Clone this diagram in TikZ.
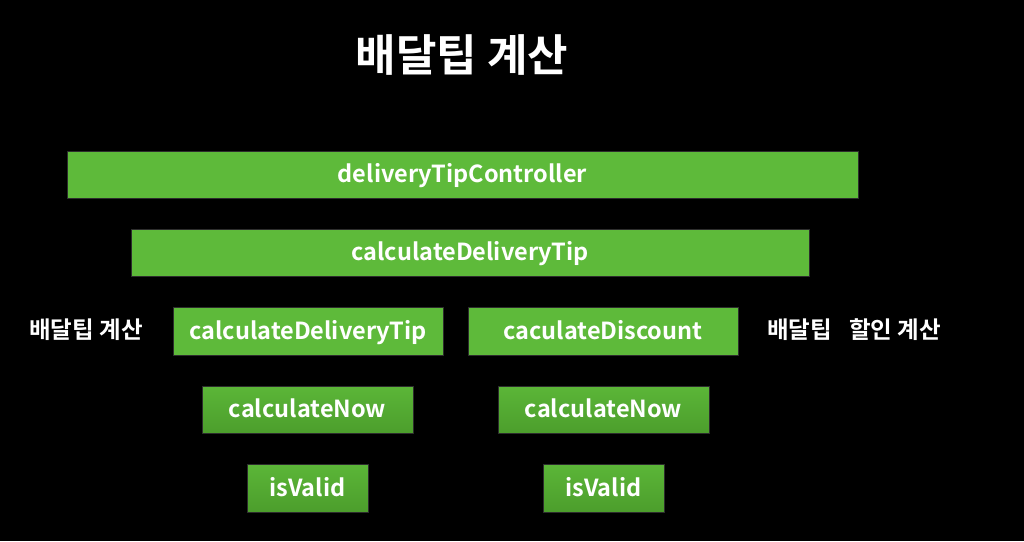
\documentclass[tikz,border=0pt]{standalone}
\usepackage{fontspec}
\setmainfont{Noto Sans CJK KR Bold}
\usepackage{tikz}

\definecolor{tipgreen}{RGB}{94,186,58}
\definecolor{tipgreendark}{RGB}{76,158,44}
\definecolor{tipedge}{RGB}{45,45,45}

\begin{document}
\begin{tikzpicture}[x=1pt, y=-1pt,
    % --- styles ---
    bar/.style={draw=tipedge, line width=1pt, fill=tipgreen, text=white,
        font=\fontsize{23.5}{26}\selectfont, inner sep=0pt, anchor=center,
        text height=1.75em, text depth=0.07em},
    lowbar/.style={bar, top color=tipgreen!85!tipgreendark, bottom color=tipgreendark},
    side_text/.style={text=white, font=\fontsize{23.5}{26}\selectfont, inner sep=0pt}
]

    % background and page size
    \fill[black] (0,0) rectangle (1024,541);
    \useasboundingbox (0,0) rectangle (1024,541);

    % title
    \node[text=white, font=\fontsize{44}{50}\selectfont] (title) at (462,55) {배달팁 계산};

    % =========================================
    % top two rows
    % =========================================
    \node[bar, minimum width=791pt, minimum height=47pt] (controller) at (462.5,174.5) {deliveryTipController};
    \node[bar, minimum width=678pt, minimum height=47pt] (calcTip) at (470,252.5) {calculateDeliveryTip};

    % =========================================
    % left column: tip
    % =========================================
    \node[bar, minimum width=270pt, minimum height=48pt] (calcTipL) at (308,331) {calculateDeliveryTip};
    \node[lowbar, minimum width=211pt, minimum height=47pt] (nowL) at (307.5,409.5) {calculateNow};
    \node[lowbar, minimum width=121pt, minimum height=48pt] (validL) at (307.5,488) {isValid};
    \node[side_text] (tipLabel) at (86,330) {배달팁 계산};

    % =========================================
    % right column: discount
    % =========================================
    \node[bar, minimum width=270pt, minimum height=48pt] (discountR) at (603,331) {caculateDiscount};
    \node[lowbar, minimum width=211pt, minimum height=47pt] (nowR) at (603.5,409.5) {calculateNow};
    \node[lowbar, minimum width=121pt, minimum height=48pt] (validR) at (603.5,488) {isValid};
    \node[side_text] (discountLabel) at (854,330) {배달팁\hspace{0.5em} 할인 계산};

\end{tikzpicture}
\end{document}
